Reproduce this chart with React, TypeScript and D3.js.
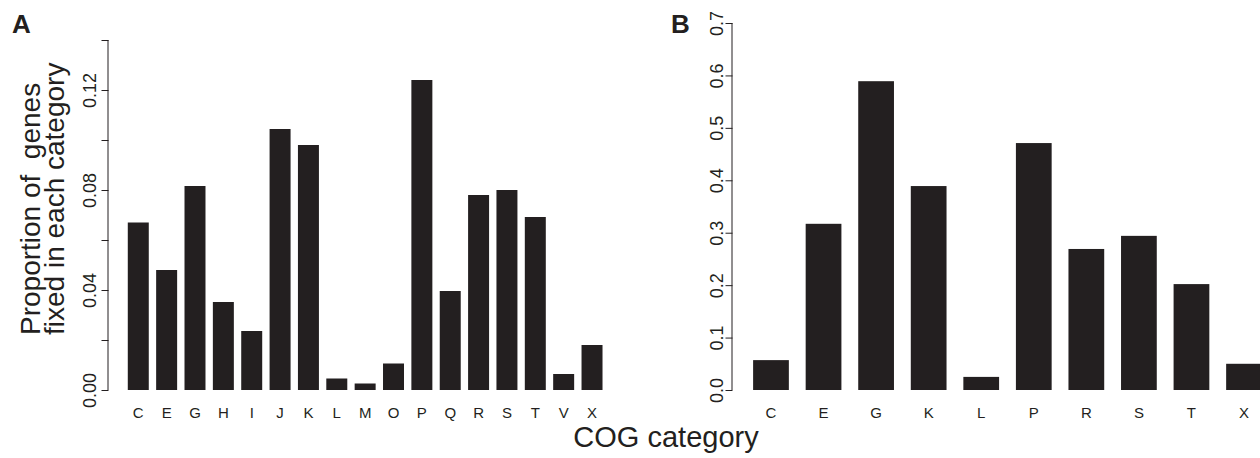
import React from "react";
import * as d3 from "d3";

const catsA = ["C", "E", "G", "H", "I", "J", "K", "L", "M", "O", "P", "Q", "R", "S", "T", "V", "X"];
const valsA = [0.067, 0.048, 0.0816, 0.0352, 0.0236, 0.1044, 0.098, 0.0046, 0.0026, 0.0106, 0.124, 0.0396, 0.078, 0.08, 0.0692, 0.0064, 0.018];
const ticksA = [0, 0.02, 0.04, 0.06, 0.08, 0.1, 0.12, 0.14];

const catsB = ["C", "E", "G", "K", "L", "P", "R", "S", "T", "X"];
const valsB = [0.057, 0.317, 0.589, 0.389, 0.025, 0.471, 0.269, 0.294, 0.202, 0.05];
const ticksB = [0, 0.1, 0.2, 0.3, 0.4, 0.5, 0.6, 0.7];

const FONT = "'Liberation Sans', Arial, Helvetica, sans-serif";
const INK = "#231f20";

export default function App() {
  const svgRef = React.useRef(null);

  React.useEffect(() => {
    const svg = d3.select(svgRef.current);
    svg.selectAll("*").remove();

    // draws one panel: bars, left axis with rotated labels, category names
    const panel = (cats, vals, ticks, yMax, yTop, xRange, pad, axisX, labelOff, fmt, showTick) => {
      const y = d3.scaleLinear().domain([0, yMax]).range([390, yTop]);
      const x = d3.scaleBand().domain(cats).range(xRange).paddingInner(pad).paddingOuter(pad / 2);
      const g = svg.append("g");

      g.selectAll("rect.bar")
        .data(cats)
        .enter()
        .append("rect")
        .attr("class", "bar")
        .attr("x", (d) => x(d))
        .attr("y", (d, i) => y(vals[i]))
        .attr("width", x.bandwidth())
        .attr("height", (d, i) => 390 - y(vals[i]))
        .attr("fill", INK);

      const axis = d3.axisLeft(y).tickValues(ticks).tickSize(7).tickFormat((d) => (showTick(d) ? fmt(d) : ""));
      const ax = g.append("g").attr("transform", `translate(${axisX},0)`).call(axis);
      ax.select(".domain").attr("stroke", INK).attr("d", `M-0.5,${y(0)}V${y(yMax)}`);
      ax.selectAll("line").attr("stroke", INK);
      ax.selectAll("text")
        .attr("x", null)
        .attr("dy", null)
        .attr("text-anchor", "middle")
        .attr("transform", `translate(${-labelOff},0) rotate(-90)`)
        .attr("fill", INK)
        .style("font-family", FONT)
        .style("font-size", "18px");

      g.selectAll("text.cat")
        .data(cats)
        .enter()
        .append("text")
        .attr("class", "cat")
        .attr("x", (d) => x(d) + x.bandwidth() / 2)
        .attr("y", 418)
        .attr("text-anchor", "middle")
        .attr("fill", INK)
        .style("font-family", FONT)
        .style("font-size", "15px")
        .text((d) => d);
    };

    panel(catsA, valsA, ticksA, 0.14, 40, [124.1, 606.2], 0.26, 108.5, 13, d3.format(".2f"),
      (d) => Math.round(d * 100) % 4 === 0);
    panel(catsB, valsB, ticksB, 0.7, 23, [744.7, 1270.3], 0.32, 732.5, 10, d3.format(".1f"), () => true);

    // y title, two lines
    const yTitle = ["Proportion of  genes", "fixed in each category"];
    svg.selectAll("text.ytitle")
      .data(yTitle)
      .enter()
      .append("text")
      .attr("class", "ytitle")
      .attr("transform", (d, i) => `translate(${40 + i * 24},335) rotate(-90)`)
      .attr("text-anchor", "start")
      .attr("fill", INK)
      .style("white-space", "pre")
      .style("font-family", FONT)
      .style("font-size", "28px")
      .text((d) => d);

    svg.append("text")
      .attr("x", 666)
      .attr("y", 447)
      .attr("text-anchor", "middle")
      .attr("fill", INK)
      .style("font-family", FONT)
      .style("font-size", "29px")
      .text("COG category");

    // panel letters
    [["A", 12], ["B", 671]].forEach(([t, px]) => {
      svg.append("text")
        .attr("x", px)
        .attr("y", 33)
        .attr("fill", INK)
        .style("font-family", FONT)
        .style("font-size", "26px")
        .style("font-weight", "bold")
        .text(t);
    });
  }, []);

  return (
    <svg
      ref={svgRef}
      width={1260}
      height={458}
      style={{ position: "absolute", left: 0, top: 0, background: "#fff" }}
    />
  );
}
